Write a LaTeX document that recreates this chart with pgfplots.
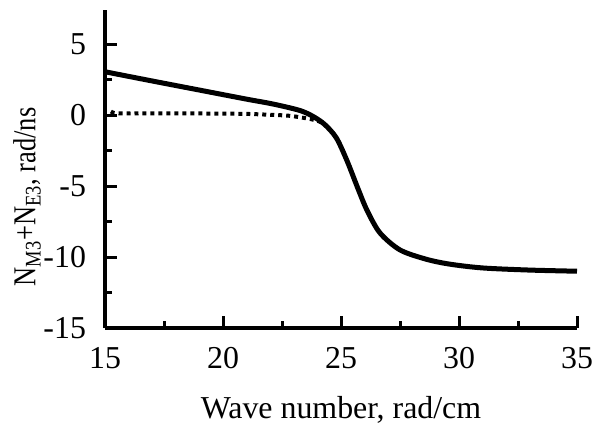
\documentclass[border=0pt]{standalone}
\usepackage{graphicx}
\usepackage{pgfplots}
\pgfplotsset{compat=1.18}
\usepackage{fontspec}
\setmainfont{Liberation Serif}
\begin{document}
\fontsize{16}{19}\selectfont
\begin{tikzpicture}
\begin{axis}[
    name=ax,
    scale only axis,
    width=236bp, height=159bp,
    xmin=15, xmax=35,
    ymin=-15, ymax=7.4,
    axis lines=left,
    axis line style={-, line width=2bp},
    tick align=inside,
    major tick length=6bp,
    minor tick length=3.5bp,
    tick style={line width=1.5bp, black},
    minor tick num=1,
    xtick={15,20,25,30,35},
    ytick={-15,-10,-5,0,5},
    yticklabels={-15,-10,-5,0,5},
    xticklabels={15,20,25,30,35},
    xticklabel style={yshift=-4bp},
    yticklabel style={xshift=-4bp},
    xlabel={Wave number, rad/cm},
    xlabel style={yshift=-3bp},
    ylabel={\scalebox{0.83}[1]{N\textsubscript{M3}+N\textsubscript{E3}, rad/ns}},
    ylabel style={yshift=-9.5bp, xshift=-14bp},
    clip=false,
]
\addplot[black, line width=2.5bp, smooth] coordinates {
    (15.0, 3.05) (17.0, 2.4) (19.0, 1.76) (21.0, 1.12) (21.9, 0.85)
    (22.6, 0.6) (23.3, 0.3) (23.8, -0.08) (24.3, -0.65) (24.8, -1.6)
    (25.25, -3.2) (25.7, -5.1) (26.1, -6.7) (26.65, -8.3) (27.5, -9.5)
    (28.6, -10.15) (29.6, -10.5) (31.0, -10.77) (33.0, -10.92) (35.0, -11.0)
};
\addplot[black, line width=2bp, dotted, smooth] coordinates {
    (15.25, 0.25) (15.5, 0.12) (16.5, 0.12) (18.0, 0.12) (20.0, 0.1)
    (21.0, 0.08) (22.0, 0.02) (22.8, -0.05) (23.5, -0.22) (24.0, -0.4)
    (24.3, -0.65)
};
\end{axis}
\pgfresetboundingbox
\path[use as bounding box] (ax.south west) ++(-52.5bp,-48.5bp) rectangle ([shift={(8bp,5bp)}]ax.north east);
\end{tikzpicture}
\end{document}
